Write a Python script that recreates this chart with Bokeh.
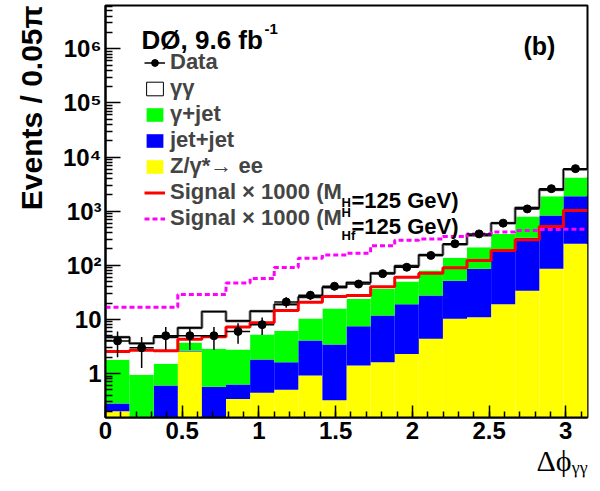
import numpy as np
from bokeh.plotting import figure
from bokeh.models import (Range1d, FixedTicker, Label, Legend, LegendItem,
                          Title)
from bokeh.embed import file_html
from bokeh.resources import INLINE

# ---------------- data ----------------
n_bins = 20
bin_width_over_pi = 0.05
data_counts = [4, 3, 5, 5, 5, 6, 8, 21, 28, 41, 45, 70, 92, 152, 250, 380,
               600, 1100, 2600, 6100]
zee = [0.2, 0.0, 0.0, 2.55, 0.0, 0.34, 0.44, 0.50, 0.92, 0.32, 1.4, 1.62,
       2.3, 4.4, 10.3, 11, 19, 34, 86, 250]
jetjet = [0.08, 0.1, 0.6, 0.08, 0.57, 0.29, 1.37, 1.12, 3.15, 3.13, 6.05,
          10.2, 16.7, 23.2, 41.7, 75, 169, 288, 744, 1630]
gammajet = [1.51, 0.85, 0.91, 1.11, 2.29, 2.15, 3.45, 4.58, 6.33, 12.45,
            16.55, 25.0, 31, 52.4, 86, 129, 192, 478, 1050, 2290]
gammagamma = [2.9, 2.65, 3.2, 3.26, 11.1, 6.6, 8.9, 12.7, 15.6, 23.1, 24,
              34.7, 47, 75, 104, 140, 220, 350, 600, 1730]
signal_sm = [2.55, 2.7, 2.63, 4.3, 4.8, 7.2, 8.65, 14.6, 20.8, 26.5, 27.6,
             40, 60, 71.5, 90, 122, 188, 295, 520, 1030]
signal_hf = [16.8, 16.8, 16.8, 28.8, 28.8, 47, 57, 91, 135, 155, 167, 230,
             290, 305, 340, 380, 410, 440, 460, 465]
x_ticks = [0, 0.5, 1, 1.5, 2, 2.5, 3]
x_minor_ticks = [round(0.1 * i, 1) for i in range(32)]
y_ticks = [1, 10, 100, 1e3, 1e4, 1e5, 1e6]
y_tick_labels = ["1", "10", "10²", "10³", "10⁴", "10⁵", "10⁶"]
y_minor_ticks = [k * 10.0 ** d for d in range(-1, 7) for k in range(2, 10)]

# ---------------- derived ----------------
edges = np.arange(n_bins + 1) * bin_width_over_pi * np.pi
left, right = edges[:-1], edges[1:]
centers = 0.5 * (left + right)
floor = 1e-3
lvl1 = np.array(zee)
lvl2 = lvl1 + np.array(jetjet)
lvl3 = lvl2 + np.array(gammajet)
lvl4 = lvl3 + np.array(gammagamma)


def fl(a):
    return np.maximum(a, floor)


FONT = "Liberation Sans"

p = figure(width=595, height=490, y_axis_type="log",
           x_range=Range1d(0, np.pi), y_range=Range1d(0.154, 6.3e6),
           output_backend="svg", toolbar_location=None,
           min_border_left=105, min_border_right=8, min_border_top=5,
           min_border_bottom=73)
p.title.visible = False
p.xgrid.visible = False
p.ygrid.visible = False
p.outline_line_color = "black"
p.outline_line_width = 2
p.background_fill_color = "white"

# stacked histograms
r_z = p.quad(left=left, right=right, bottom=floor, top=fl(lvl1),
             fill_color="#ffff00", line_color=None)
r_jj = p.quad(left=left, right=right, bottom=fl(lvl1), top=fl(lvl2),
              fill_color="#0000ff", line_color=None)
r_gj = p.quad(left=left, right=right, bottom=fl(lvl2), top=fl(lvl3),
              fill_color="#00ff00", line_color=None)
p.quad(left=left, right=right, bottom=fl(lvl3), top=fl(lvl4),
       fill_color="white", line_color=None)
step_x = edges
p.step(step_x, np.append(lvl4, lvl4[-1]), mode="after",
       line_color="#888888", line_width=3)
p.step(step_x, np.append(lvl4, lvl4[-1]), mode="after",
       line_color="black", line_width=1.2)
# zero-height boxes on the gamma-gamma tops: give the legend its outlined box
r_gg = p.quad(left=left, right=right, bottom=fl(lvl4), top=fl(lvl4),
              fill_color="white", line_color="black", line_width=1)

# signals
r_sm = p.step(step_x, np.append(signal_sm, signal_sm[-1]), mode="after",
              line_color="#ff0000", line_width=3)
r_hf = p.step(step_x, np.append(signal_hf, signal_hf[-1]), mode="after",
              line_color="#ff00ff", line_width=3, line_dash="5 3")

# data with errors
dc = np.array(data_counts, dtype=float)
err = np.sqrt(dc)
r_ev = p.segment(x0=centers, x1=centers, y0=fl(dc - err), y1=dc + err,
                 line_color="black", line_width=1.5)
r_eh = p.segment(x0=left, x1=right, y0=dc, y1=dc,
                 line_color="black", line_width=1.5)
r_dat = p.scatter(centers, dc, size=8, marker="circle",
                  fill_color="black", line_color="black")

# axes
p.xaxis.ticker = FixedTicker(ticks=x_ticks, minor_ticks=x_minor_ticks)
p.yaxis.ticker = FixedTicker(ticks=y_ticks, minor_ticks=y_minor_ticks)
p.yaxis.major_label_overrides = {t: s for t, s in zip(y_ticks, y_tick_labels)}
p.xaxis.major_label_overrides = {t: str(t) for t in x_ticks}
for ax in (p.xaxis, p.yaxis):
    ax.axis_line_width = 2
    ax.major_tick_out = 0
    ax.minor_tick_out = 0
    ax.major_tick_line_width = 1.5
    ax.minor_tick_line_width = 1.5
    ax.major_label_text_font = FONT
    ax.major_label_text_font_style = "bold"
    ax.major_label_text_font_size = "24px"
    ax.major_label_text_color = "black"
p.yaxis.major_tick_in = 15
p.yaxis.minor_tick_in = 7
p.yaxis.major_label_standoff = 4
p.xaxis.major_tick_in = 12
p.xaxis.minor_tick_in = 6
p.xaxis.major_label_standoff = 4

# axis titles (ROOT style: aligned to the far end)
ytitle = Title(text="Events / 0.05π", align="right", text_font=FONT,
               text_font_style="bold", text_font_size="30px",
               text_color="black")
try:
    ytitle.standoff = 24
except AttributeError:
    pass
p.add_layout(ytitle, "left")
xtitle = Title(text="Δϕᵧᵧ", align="right", text_font="Liberation Serif",
               text_font_style="normal", text_font_size="30px",
               text_color="black")
try:
    xtitle.standoff = 0
except AttributeError:
    pass
p.add_layout(xtitle, "below")

# helpers: canvas pixel -> frame screen units
FL, FB = 105, 417


def fx(px):
    return px - FL


def fy(py):
    return FB - py


def lab(px, py, text, size, bold=True, font=FONT):
    p.add_layout(Label(x=fx(px), y=fy(py), x_units="screen", y_units="screen",
                       text=text, text_font=font, text_font_size=f"{size}px",
                       text_font_style="bold" if bold else "normal",
                       text_color="black", text_baseline="alphabetic",
                       text_align="left"))


lab(141, 39, "DØ, 9.6 fb", 26)
lab(264, 28, "-1", 15)
lab(523, 45, "(b)", 25)

# legend: 7 rows, 26 px pitch, first row centred at y = 62
legend = Legend(items=[
    LegendItem(label="Data", renderers=[r_eh, r_dat]),
    LegendItem(label="γγ", renderers=[r_gg]),
    LegendItem(label="γ+jet", renderers=[r_gj]),
    LegendItem(label="jet+jet", renderers=[r_jj]),
    LegendItem(label="Z/γ*→ ee", renderers=[r_z]),
    LegendItem(label="Signal × 1000 (M", renderers=[r_sm]),
    LegendItem(label="Signal × 1000 (M", renderers=[r_hf]),
], location=(fx(144), fy(231)))
legend.border_line_color = None
legend.background_fill_alpha = 0
legend.padding = 0
legend.margin = 0
legend.spacing = 0
legend.glyph_width = 21
legend.glyph_height = 17
legend.label_height = 20
legend.label_standoff = 5
legend.label_text_font = FONT
legend.label_text_font_style = "bold"
legend.label_text_font_size = "22px"
p.add_layout(legend, "center")

lab(351, 200, "=125 GeV)", 22)
lab(351, 226, "=125 GeV)", 22)
lab(341, 202, "H", 13)
lab(341, 212, "H", 13)
lab(341, 235, "Hf", 13)

open("out.html", "w").write(file_html(p, INLINE))
